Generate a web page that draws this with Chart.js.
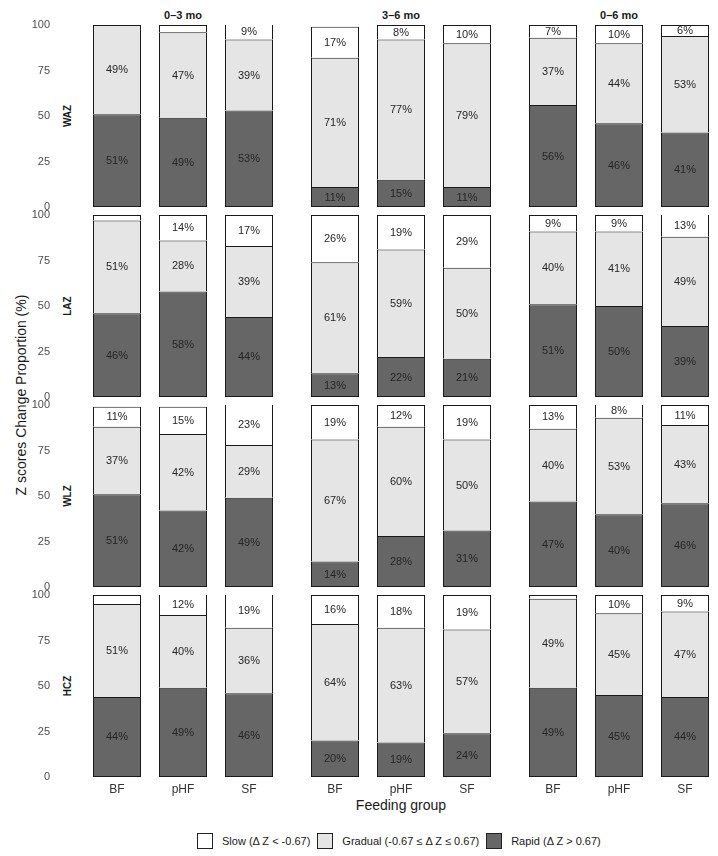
<!DOCTYPE html>
<html>
<head>
<meta charset="utf-8">
<script src="https://cdn.jsdelivr.net/npm/chart.js@4/dist/chart.umd.min.js"></script>
<style>
  body { margin: 0; background: #fff; font-family: "Liberation Sans", Arial, sans-serif; }
  #wrap { position: relative; width: 718px; height: 856px; overflow: hidden; background: #fff; }
  canvas { position: absolute; }
  .txt { position: absolute; color: #1a1a1a; white-space: nowrap; text-align: center; }
  .colTitle { font-weight: bold; font-size: 11px; height: 14px; line-height: 14px; top: 8px; width: 198px; }
  .strip { font-weight: bold; font-size: 10px; width: 182px; height: 14px; line-height: 14px; transform: rotate(-90deg); }
  #yTitle { font-size: 14px; width: 400px; height: 18px; line-height: 18px; left: -179px; top: 386px; transform: rotate(-90deg); }
  #xTitle { font-size: 14px; width: 200px; height: 18px; line-height: 18px; left: 301px; top: 796px; }
  #legend { position: absolute; left: 197px; top: 833px; display: flex; align-items: center; font-size: 11px; color: #1a1a1a; }
  .key { width: 14px; height: 14px; border: 1px solid #222; }
  .lab { margin-left: 9px; margin-right: 7px; }
</style>
</head>
<body>
<div id="wrap">
  <div id="yTitle" class="txt">Z scores Change Proportion (%)</div>
  <div id="xTitle" class="txt">Feeding group</div>
  <div id="legend">
    <div class="key" style="background:#ffffff"></div><span class="lab">Slow (Δ Z &lt; -0.67)</span>
    <div class="key" style="background:#e5e5e5"></div><span class="lab">Gradual (-0.67 ≤ Δ Z ≤ 0.67)</span>
    <div class="key" style="background:#666666"></div><span class="lab">Rapid (Δ Z &gt; 0.67)</span>
  </div>
</div>
<script>
const groups = ["BF", "pHF", "SF"];
const periods = ["0–3 mo", "3–6 mo", "0–6 mo"];
const indices = ["WAZ", "LAZ", "WLZ", "HCZ"];

// one inner array per period, values for BF, pHF, SF
const wazRapid   = [[51, 49, 53], [11, 15, 11], [56, 46, 41]];
const wazGradual = [[49, 47, 39], [71, 77, 79], [37, 44, 53]];
const wazSlow    = [[0, 4, 9], [17, 8, 10], [7, 10, 6]];

const lazRapid   = [[46, 58, 44], [13, 22, 21], [51, 50, 39]];
const lazGradual = [[51, 28, 39], [61, 59, 50], [40, 41, 49]];
const lazSlow    = [[3, 14, 17], [26, 19, 29], [9, 9, 13]];

const wlzRapid   = [[51, 42, 49], [14, 28, 31], [47, 40, 46]];
const wlzGradual = [[37, 42, 29], [67, 60, 50], [40, 53, 43]];
const wlzSlow    = [[11, 15, 23], [19, 12, 19], [13, 8, 11]];

const hczRapid   = [[44, 49, 46], [20, 19, 24], [49, 45, 44]];
const hczGradual = [[51, 40, 36], [64, 63, 57], [49, 45, 47]];
const hczSlow    = [[5, 12, 19], [16, 18, 19], [2, 10, 9]];

const seriesByIndex = {
  WAZ: [wazRapid, wazGradual, wazSlow],
  LAZ: [lazRapid, lazGradual, lazSlow],
  WLZ: [wlzRapid, wlzGradual, wlzSlow],
  HCZ: [hczRapid, hczGradual, hczSlow]
};
const seriesNames = ["Rapid", "Gradual", "Slow"];
const seriesColors = ["#666666", "#e5e5e5", "#ffffff"];

const colLeft = [84, 302, 520];
const panelW = 198;
const panelH = 182;
const rowTop = r => 25 + 190 * r;
const pad = 8;
const yAxisW = 84;
const xAxisH = 22;
const font = '"Liberation Sans", Arial, sans-serif';

// percentage text in the middle of each segment
const segLabels = {
  id: "segLabels",
  afterDatasetsDraw(chart) {
    const ctx = chart.ctx;
    ctx.save();
    ctx.font = "11px " + font;
    ctx.fillStyle = "#262626";
    ctx.textAlign = "center";
    ctx.textBaseline = "middle";
    chart.data.datasets.forEach((ds, i) => {
      chart.getDatasetMeta(i).data.forEach((bar, j) => {
        const v = ds.data[j];
        if (v < 6) return;
        const p = bar.getProps(["x", "y", "base"], true);
        ctx.fillText(v + "%", p.x, (p.y + p.base) / 2 + 0.5);
      });
    });
    ctx.restore();
  }
};

const wrap = document.getElementById("wrap");

periods.forEach((p, c) => {
  const t = document.createElement("div");
  t.className = "txt colTitle";
  t.style.left = colLeft[c] + "px";
  t.textContent = p;
  wrap.appendChild(t);
});

indices.forEach((idx, r) => {
  const s = document.createElement("div");
  s.className = "txt strip";
  s.style.left = (68 - panelH / 2) + "px";
  s.style.top = (rowTop(r) + panelH / 2 - 7) + "px";
  s.textContent = idx;
  wrap.appendChild(s);

  const bottomRow = r === indices.length - 1;
  periods.forEach((p, c) => {
    const leftCol = c === 0;
    const canvas = document.createElement("canvas");
    const w = leftCol ? colLeft[0] + panelW : panelW;
    const h = pad + panelH + (bottomRow ? xAxisH : pad);
    canvas.width = w;
    canvas.height = h;
    canvas.style.width = w + "px";
    canvas.style.height = h + "px";
    canvas.style.left = (leftCol ? 0 : colLeft[c]) + "px";
    canvas.style.top = (rowTop(r) - pad) + "px";
    wrap.appendChild(canvas);

    const series = seriesByIndex[idx];
    const xScale = {
      stacked: true,
      display: bottomRow,
      grid: { display: false, drawTicks: false },
      border: { display: false },
      ticks: { color: "#333333", padding: 5, font: { family: font, size: 12 } }
    };
    if (bottomRow) xScale.afterFit = s => { s.height = xAxisH; };
    const yScale = {
      stacked: true,
      min: 0,
      max: 100,
      display: leftCol,
      grid: { display: false, drawTicks: false },
      border: { display: false },
      ticks: { stepSize: 25, color: "#4d4d4d", padding: 34, font: { family: font, size: 11 } }
    };
    if (leftCol) yScale.afterFit = s => {
      s.width = yAxisW;
      s.paddingTop = 0;
      s.paddingBottom = 0;
    };

    new Chart(canvas.getContext("2d"), {
      type: "bar",
      data: {
        labels: groups,
        datasets: series.map((vals, k) => ({
          label: seriesNames[k],
          data: vals[c],
          backgroundColor: seriesColors[k],
          // only the bottom segment keeps its lower edge, so shared edges stay one line thick
          borderSkipped: k === 0 ? false : "start"
        }))
      },
      options: {
        responsive: false,
        animation: false,
        events: [],
        layout: { padding: { top: pad, bottom: bottomRow ? 0 : pad, left: 0, right: 0 } },
        datasets: {
          bar: {
            borderColor: "#1a1a1a",
            borderWidth: 1,
            barPercentage: 48 / 66,
            categoryPercentage: 1
          }
        },
        plugins: { legend: { display: false }, tooltip: { enabled: false } },
        scales: { x: xScale, y: yScale }
      },
      plugins: [segLabels]
    });
  });
});
</script>
</body>
</html>
